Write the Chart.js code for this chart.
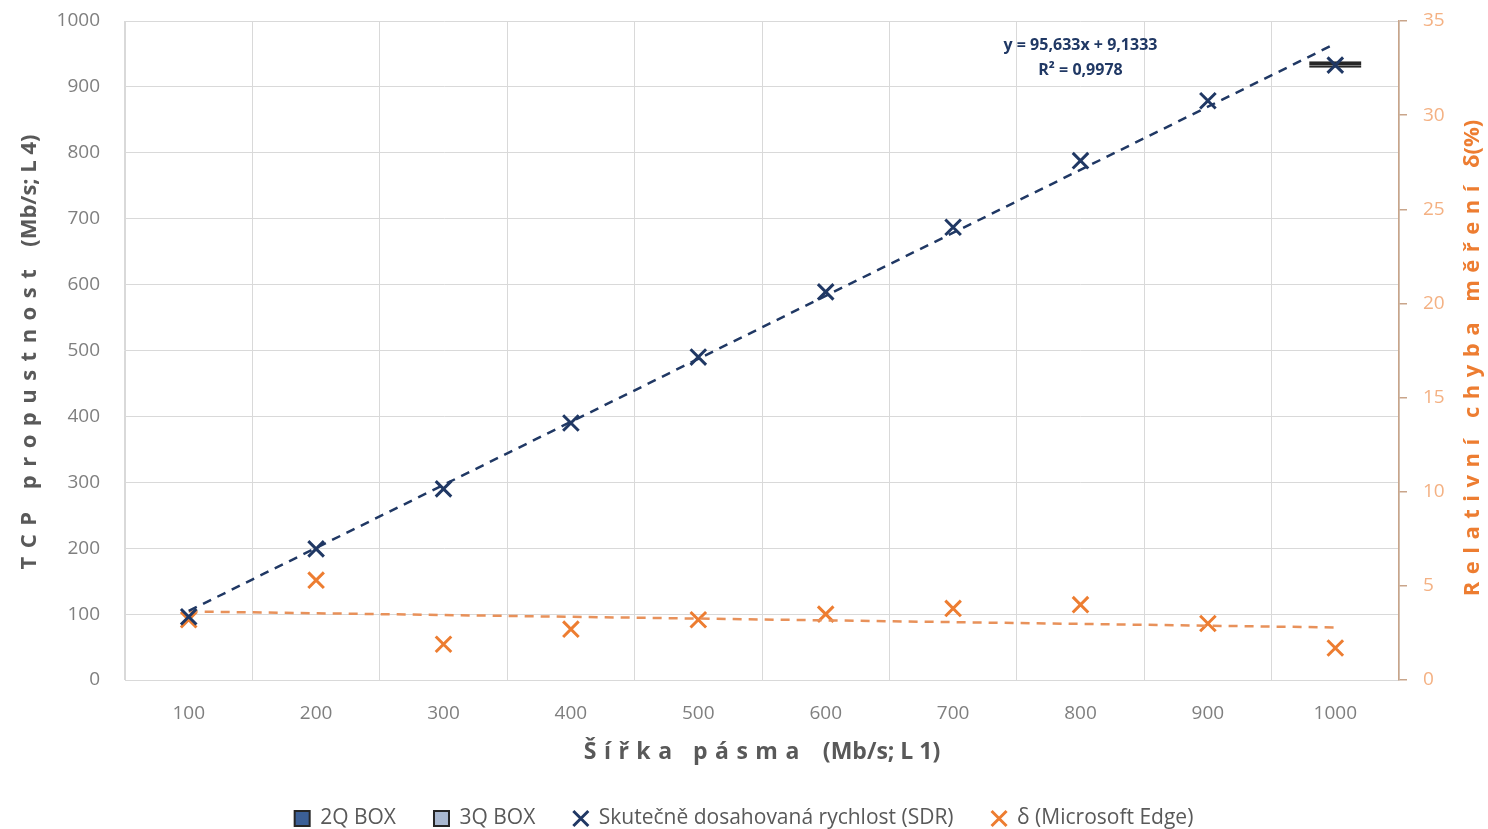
<!DOCTYPE html>
<html>
<head>
<meta charset="utf-8">
<script src="https://cdn.jsdelivr.net/npm/chart.js@4.4.0/dist/chart.umd.min.js"></script>
<style>
  html, body { margin: 0; padding: 0; background: #fff; }
  #wrap { width: 1488px; height: 829px; }
</style>
</head>
<body>
<div id="wrap"><canvas id="graf"></canvas></div>
<script>
const labels = ['100', '200', '300', '400', '500', '600', '700', '800', '900', '1000'];
const sdr = [96, 199, 290, 390, 490, 589, 687, 788, 879, 933];
const delta = [3.2, 5.3, 1.9, 2.7, 3.2, 3.5, 3.8, 4.0, 3.0, 1.7];
const box2q = [null, null, null, null, null, null, null, null, null, [929, 933]];
const box3q = [null, null, null, null, null, null, null, null, null, [933, 939]];
const trendEnds = ['100', '1000'];
const sdrTrend = [104.8, 965.5];     // y = 95,633x + 9,1333 at x = 1 and x = 10
const deltaTrend = [3.64, 2.79];
const eqText = ['y = 95,633x + 9,1333', 'R\u00b2 = 0,9978'];

const navy = '#203864';
const orange = '#ED7D31';
const gridColor = '#D9D9D9';
const tickFont = { family: 'Open Sans', size: 19 };

const titles = {
    left: [['TCP propustnost', 8.5], ['(Mb/s; L 4)', 0]],
    bottom: [['\u0160\u00ed\u0159ka p\u00e1sma', 7.5], ['(Mb/s; L 1)', 0]],
    right: [['Relativn\u00ed chyba m\u011b\u0159en\u00ed', 7.5], ['\u03b4(%)', 0]]
};

// axis titles with letter spacing + trendline equation
const drawSpaced = (ctx, parts, gap) => {
    let widths = parts.map(p => {
        ctx.letterSpacing = p[1] + 'px';
        return ctx.measureText(p[0]).width;
    });
    let total = widths.reduce((a, b) => a + b, 0) + gap * (parts.length - 1);
    let x = -total / 2;
    parts.forEach((p, i) => {
        ctx.letterSpacing = p[1] + 'px';
        ctx.fillText(p[0], x, 0);
        x += widths[i] + gap;
    });
    ctx.letterSpacing = '0px';
};

const textPlugin = {
    id: 'texty',
    afterDraw(chart) {
        const ctx = chart.ctx;
        ctx.save();
        ctx.textBaseline = 'middle';
        ctx.textAlign = 'left';

        ctx.font = 'bold 22px "Open Sans"';
        ctx.fillStyle = '#595959';
        ctx.save();
        ctx.translate(30, 352);
        ctx.rotate(-Math.PI / 2);
        drawSpaced(ctx, titles.left, 14);
        ctx.restore();

        ctx.font = 'bold 23px "Open Sans"';
        ctx.save();
        ctx.translate(762, 752);
        drawSpaced(ctx, titles.bottom, 16);
        ctx.restore();

        ctx.font = 'bold 22px "Open Sans"';
        ctx.fillStyle = orange;
        ctx.save();
        ctx.translate(1473, 358);
        ctx.rotate(-Math.PI / 2);
        drawSpaced(ctx, titles.right, 10);
        ctx.restore();

        const xs = chart.scales.x;
        const ys = chart.scales.y;
        ctx.font = 'bold 16px "Open Sans"';
        ctx.fillStyle = navy;
        ctx.textAlign = 'center';
        const cx = xs.getPixelForValue(7);
        ctx.fillText(eqText[0], cx, ys.getPixelForValue(963));
        ctx.fillText(eqText[1], cx, ys.getPixelForValue(925));
        ctx.restore();
    }
};

new Chart(document.getElementById('graf'), {
    data: {
        labels: labels,
        datasets: [
            {
                type: 'bar', label: '2Q BOX', data: box2q, yAxisID: 'y',
                backgroundColor: '#3B5F96', borderColor: '#262626', borderWidth: 2,
                borderSkipped: false, grouped: false, barPercentage: 0.41, categoryPercentage: 1,
                legendStyle: 'rect', order: 5
            },
            {
                type: 'bar', label: '3Q BOX', data: box3q, yAxisID: 'y',
                backgroundColor: '#A9B8D0', borderColor: '#262626', borderWidth: 2,
                borderSkipped: false, grouped: false, barPercentage: 0.41, categoryPercentage: 1,
                legendStyle: 'rect', order: 5
            },
            {
                type: 'line', label: 'Skute\u010dn\u011b dosahovan\u00e1 rychlost (SDR)', data: sdr, yAxisID: 'y',
                showLine: false, pointStyle: 'crossRot', pointRadius: 11, pointBorderWidth: 3,
                pointBorderColor: navy, pointBackgroundColor: navy, borderColor: navy,
                legendStyle: 'crossRot', order: 1
            },
            {
                type: 'line', label: '\u03b4 (Microsoft Edge)', data: delta, yAxisID: 'y1',
                showLine: false, pointStyle: 'crossRot', pointRadius: 11, pointBorderWidth: 3,
                pointBorderColor: orange, pointBackgroundColor: orange, borderColor: orange,
                legendStyle: 'crossRot', order: 3
            },
            {
                type: 'line', label: 'trend SDR', data: trendEnds.map((l, i) => ({ x: l, y: sdrTrend[i] })),
                yAxisID: 'y', borderColor: navy, borderWidth: 2.5, borderDash: [9, 7], pointRadius: 0,
                hideLegend: true, order: 0
            },
            {
                type: 'line', label: 'trend delta', data: trendEnds.map((l, i) => ({ x: l, y: deltaTrend[i] })),
                yAxisID: 'y1', borderColor: '#E8915A', borderWidth: 2.5, borderDash: [9, 7], pointRadius: 0,
                hideLegend: true, order: 2
            }
        ]
    },
    options: {
        responsive: true,
        maintainAspectRatio: false,
        animation: false,
        layout: { padding: { top: 21, right: 0, left: 0, bottom: -10 } },
        plugins: {
            tooltip: { enabled: false },
            legend: {
                position: 'bottom',
                labels: {
                    usePointStyle: true,
                    boxWidth: 15,
                    boxHeight: 15,
                    color: '#595959',
                    font: { family: 'Open Sans', size: 21 },
                    padding: 38,
                    generateLabels(chart) {
                        const items = Chart.defaults.plugins.legend.labels.generateLabels(chart);
                        items.forEach(it => {
                            const ds = chart.data.datasets[it.datasetIndex];
                            it.pointStyle = ds.legendStyle;
                            if (ds.type === 'line') {
                                it.strokeStyle = ds.pointBorderColor;
                                it.lineWidth = 3;
                            }
                        });
                        return items
                            .filter(it => !chart.data.datasets[it.datasetIndex].hideLegend)
                            .sort((a, b) => a.datasetIndex - b.datasetIndex);
                    }
                }
            }
        },
        scales: {
            x: {
                type: 'category',
                offset: true,
                grid: { offset: true, color: gridColor, drawTicks: false },
                border: { color: gridColor },
                ticks: { color: '#7F7F7F', font: tickFont, padding: 22 },
                afterFit(scale) {
                    const lh = scale.chart.legend ? scale.chart.legend.height : 0;
                    scale.height = 829 + 10 - 680 - lh;
                }
            },
            y: {
                position: 'left',
                min: 0, max: 1000,
                ticks: { stepSize: 100, color: '#7F7F7F', font: tickFont, padding: 25, callback: v => String(v) },
                grid: { color: gridColor, drawTicks: false },
                border: { color: gridColor },
                afterFit(scale) { scale.width = 125; scale.paddingTop = 0; scale.paddingBottom = 0; }
            },
            y1: {
                position: 'right',
                min: 0, max: 35,
                ticks: { stepSize: 5, color: '#F4B183', font: tickFont, padding: 16 },
                grid: { drawOnChartArea: false, color: '#C9A58A', tickLength: 8, lineWidth: 1.5 },
                border: { color: '#C9A58A', width: 1.5 },
                afterFit(scale) { scale.width = 89; scale.paddingTop = 0; scale.paddingBottom = 0; }
            }
        }
    },
    plugins: [textPlugin]
});
</script>
</body>
</html>
